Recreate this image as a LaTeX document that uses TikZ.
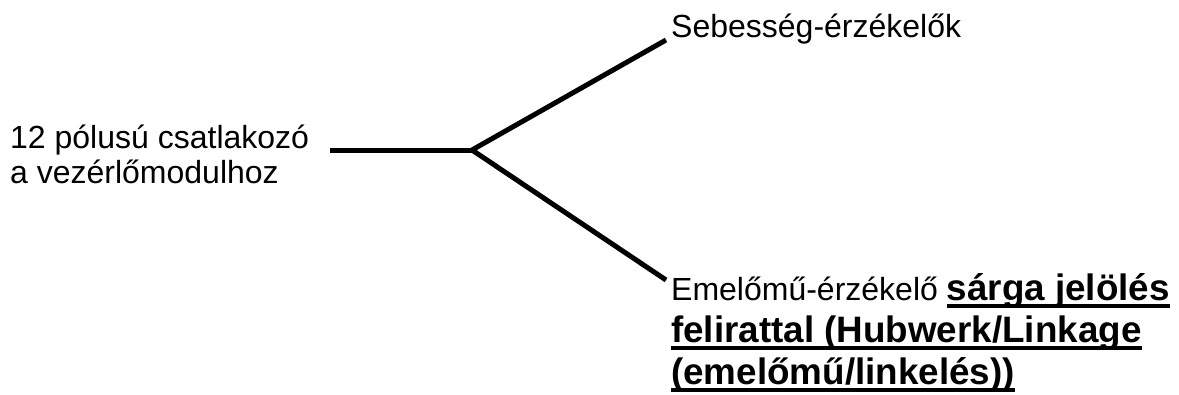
\documentclass[tikz,border=0pt]{standalone}
\usepackage{fontspec}
\setmainfont{Liberation Sans}
\newcommand\myul[1]{\setbox0\hbox{#1}\rlap{\rule[-8pt]{\wd0}{3.6pt}}\box0}
\begin{document}
\begin{tikzpicture}[x=1pt,y=-1pt,
  lbl/.style={anchor=base west,inner sep=0pt,font=\fontsize{32}{36}\selectfont},
  bl/.style={font=\fontsize{36.8}{42}\selectfont\bfseries},
  wire/.style={line width=5pt}]
\useasboundingbox (0,0) rectangle (1179,394);
\coordinate (a) at (330,150);
\coordinate (j) at (472,150);
\coordinate (t) at (666,40);
\coordinate (b) at (666,280);
\draw[wire] (a) -- (j);
\draw[wire,line join=round] (t) -- (j) -- (b);
\node[lbl] (l1) at (10,148) {12 pólusú csatlakozó};
\node[lbl] (l2) at (10,183) {a vezérlőmodulhoz};
\node[lbl] (s1) at (671,37) {Sebesség-érzékelők};
\node[lbl] (e1) at (671,300) {Emelőmű-érzékelő {\fontsize{36.8}{42}\selectfont\bfseries\myul{sárga jelölés}}};
\node[lbl,bl] (e2) at (671,342) {\myul{felirattal (Hubwerk/Linkage}};
\node[lbl,bl] (e3) at (671,384) {\myul{(emelőmű/linkelés))}};
\end{tikzpicture}
\end{document}
